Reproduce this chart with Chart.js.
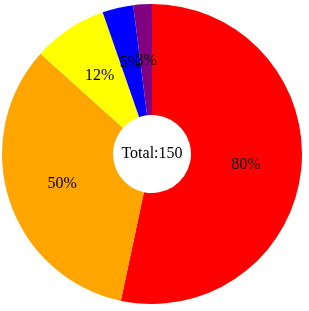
<!DOCTYPE html>
<html>
<head>
<meta charset="utf-8">
<script src="https://cdn.jsdelivr.net/npm/chart.js@4"></script>
<style>
  html, body { margin: 0; padding: 0; background: #fff; }
  #chart { display: block; }
</style>
</head>
<body>
<canvas id="chart" width="309" height="311"></canvas>
<script>
const labels = ['A', 'B', 'C', 'D', 'E'];
const values = [80, 50, 12, 5, 3];
const colors = ['#ff0000', '#ffa500', '#ffff00', '#0000ff', '#800080'];

const total = values.reduce((a, b) => a + b, 0);

// slice labels at the middle of each arc + total in the hole
const labelPlugin = {
    id: 'sliceLabels',
    afterDatasetsDraw(chart) {
        const ctx = chart.ctx;
        const meta = chart.getDatasetMeta(0);
        ctx.save();
        ctx.fillStyle = '#000';
        ctx.textAlign = 'center';
        ctx.textBaseline = 'middle';
        ctx.font = '16px "Liberation Serif", serif';
        meta.data.forEach((arc, i) => {
            const p = arc.tooltipPosition();
            ctx.fillText(values[i] + '%', p.x, p.y + 1);
        });
        const c = meta.data[0];
        ctx.fillText('Total:' + total, c.x, c.y);
        ctx.restore();
    }
};

new Chart(document.getElementById('chart').getContext('2d'), {
    type: 'doughnut',
    data: {
        labels: labels,
        datasets: [{
            data: values,
            backgroundColor: colors,
            borderWidth: 0
        }]
    },
    options: {
        responsive: false,
        animation: false,
        cutout: '26%',
        layout: { padding: { left: 2, right: 7, top: 3, bottom: 6 } },
        plugins: {
            legend: { display: false },
            tooltip: { enabled: false }
        }
    },
    plugins: [labelPlugin]
});
</script>
</body>
</html>
